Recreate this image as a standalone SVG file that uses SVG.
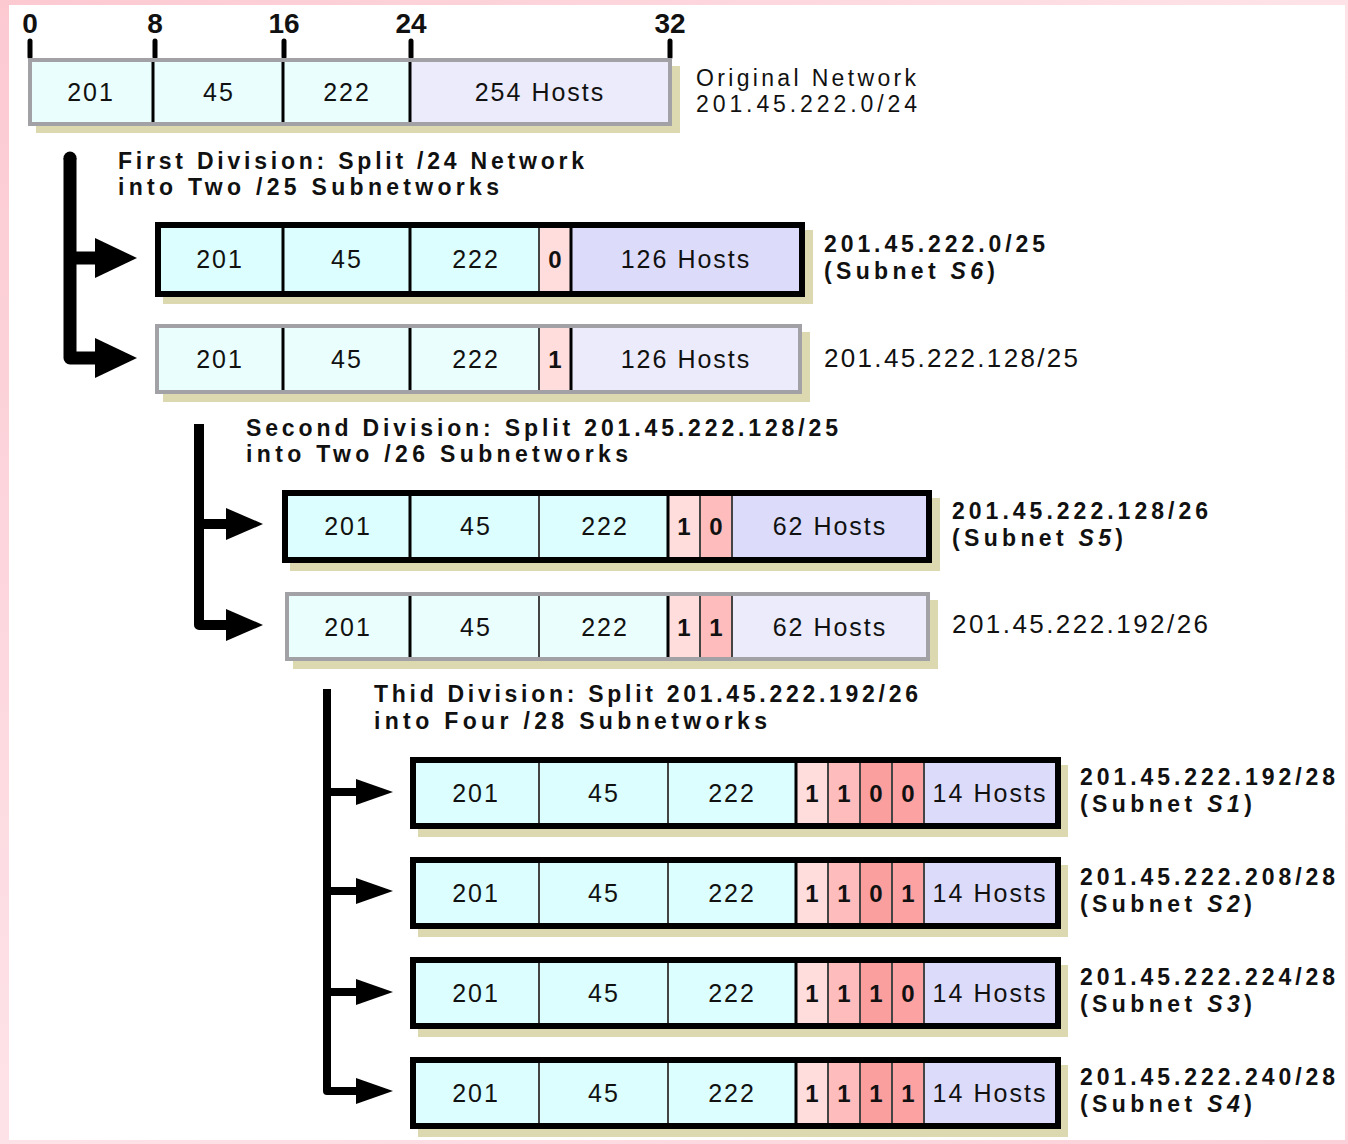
<svg xmlns="http://www.w3.org/2000/svg" width="1348" height="1144" viewBox="0 0 1348 1144">
<defs>
<linearGradient id="bg" x1="0" y1="0" x2="1" y2="1">
<stop offset="0" stop-color="#fcc9d1"/>
<stop offset="0.5" stop-color="#fde3e8"/>
<stop offset="1" stop-color="#fbd0d8"/>
</linearGradient>
</defs>
<style>
text{font-family:"Liberation Sans",Arial,sans-serif;fill:#111}
.cell{font-size:25px;letter-spacing:2px;text-anchor:middle}
.bit{font-size:24px;font-weight:bold;text-anchor:middle}
.tick{font-size:28px;font-weight:bold;text-anchor:middle}
.lbl{font-size:23px}
.lbl1{font-size:26px}
.lblb{font-size:23px;font-weight:bold}
.head{font-size:23px;font-weight:bold}
.shadow{fill:#dcd9b0}
.cy{fill:#dcfefe}
.cy2{fill:#eafefe}
.p1{fill:#ffdddd}
.p2{fill:#ffbcbc}
.p3{fill:#fb9e9e}
.p4{fill:#fda2a2}
.lv{fill:#dcdcfa}
.lv2{fill:#ebebfb}
.bdk{fill:none;stroke:#000;stroke-width:6}
.bgr{fill:none;stroke:#a2a2a6;stroke-width:4}
.dv{stroke:#000;stroke-width:3}
.dg{stroke:#444;stroke-width:2}
.conn{fill:none;stroke:#000;stroke-linejoin:round}
.ah{fill:#000}
</style>
<rect x="0" y="0" width="1348" height="1144" fill="url(#bg)"/>
<rect x="9" y="5" width="1336" height="1135" fill="#fff"/>

<g id="scale">
<g stroke="#000" stroke-width="5" stroke-linecap="round">
<line x1="30" y1="41" x2="30" y2="57"/>
<line x1="155" y1="41" x2="155" y2="57"/>
<line x1="284" y1="41" x2="284" y2="57"/>
<line x1="411" y1="41" x2="411" y2="57"/>
<line x1="670" y1="41" x2="670" y2="57"/>
</g>
<text class="tick" x="30" y="33">0</text>
<text class="tick" x="155" y="33">8</text>
<text class="tick" x="284" y="33">16</text>
<text class="tick" x="411" y="33">24</text>
<text class="tick" x="670" y="33">32</text>
</g>

<g id="original">
<rect class="shadow" x="36" y="66" width="644" height="67"/>
<rect class="cy2" x="30" y="60" width="380" height="64"/>
<rect class="lv2" x="410" y="60" width="260" height="64"/>
<line class="dv" x1="153" y1="60" x2="153" y2="124"/>
<line class="dv" x1="283" y1="60" x2="283" y2="124"/>
<line class="dv" x1="410" y1="60" x2="410" y2="124"/>
<rect class="bgr" x="30" y="60" width="640" height="64"/>
<text class="cell" x="91" y="101">201</text>
<text class="cell" x="219" y="101">45</text>
<text class="cell" x="347" y="101">222</text>
<text class="cell" x="540" y="101">254 Hosts</text>
<text class="lbl" x="696" y="86" textLength="220" lengthAdjust="spacing">Original Network</text>
<text class="lbl" x="696" y="112" textLength="221" lengthAdjust="spacing">201.45.222.0/24</text>
</g>

<g id="heading1">
<text class="head" x="118" y="169" textLength="466" lengthAdjust="spacing">First Division: Split /24 Network</text>
<text class="head" x="118" y="195" textLength="381" lengthAdjust="spacing">into Two /25 Subnetworks</text>
</g>

<g id="subnet-s6">
<rect class="shadow" x="163" y="230" width="650" height="74"/>
<rect class="cy" x="158" y="225" width="381" height="69"/>
<rect class="p1" x="539" y="225" width="32" height="69"/>
<rect class="lv" x="571" y="225" width="231" height="69"/>
<line class="dv" x1="283" y1="225" x2="283" y2="294"/>
<line class="dv" x1="410" y1="225" x2="410" y2="294"/>
<line class="dg" x1="539" y1="225" x2="539" y2="294"/>
<line class="dv" x1="571" y1="225" x2="571" y2="294"/>
<rect class="bdk" x="158" y="225" width="644" height="69"/>
<text class="cell" x="220" y="268">201</text>
<text class="cell" x="347" y="268">45</text>
<text class="cell" x="476" y="268">222</text>
<text class="bit" x="555" y="268">0</text>
<text class="cell" x="686" y="268">126 Hosts</text>
<text class="lblb" x="824" y="252" textLength="221" lengthAdjust="spacing">201.45.222.0/25</text>
<text class="lblb" x="824" y="279" textLength="171" lengthAdjust="spacing">(Subnet <tspan font-style="italic">S6</tspan>)</text>
</g>

<g id="net-128-25">
<rect class="shadow" x="163" y="332" width="647" height="70"/>
<rect class="cy2" x="157" y="326" width="382" height="66"/>
<rect class="p1" x="539" y="326" width="32" height="66"/>
<rect class="lv2" x="571" y="326" width="229" height="66"/>
<line class="dv" x1="283" y1="326" x2="283" y2="392"/>
<line class="dv" x1="410" y1="326" x2="410" y2="392"/>
<line class="dg" x1="539" y1="326" x2="539" y2="392"/>
<line class="dv" x1="571" y1="326" x2="571" y2="392"/>
<rect class="bgr" x="157" y="326" width="643" height="66"/>
<text class="cell" x="220" y="368">201</text>
<text class="cell" x="347" y="368">45</text>
<text class="cell" x="476" y="368">222</text>
<text class="bit" x="555" y="368">1</text>
<text class="cell" x="686" y="368">126 Hosts</text>
<text class="lbl1" x="824" y="367" textLength="254" lengthAdjust="spacing">201.45.222.128/25</text>
</g>

<g id="heading2">
<text class="head" x="246" y="436" textLength="592" lengthAdjust="spacing">Second Division: Split 201.45.222.128/25</text>
<text class="head" x="246" y="462" textLength="382" lengthAdjust="spacing">into Two /26 Subnetworks</text>
</g>

<g id="subnet-s5">
<rect class="shadow" x="290" y="498" width="650" height="73"/>
<rect class="cy" x="285" y="493" width="383" height="67"/>
<rect class="p1" x="668" y="493" width="32" height="67"/>
<rect class="p2" x="700" y="493" width="32" height="67"/>
<rect class="lv" x="732" y="493" width="197" height="67"/>
<line class="dv" x1="410" y1="493" x2="410" y2="560"/>
<line class="dg" x1="539" y1="493" x2="539" y2="560"/>
<line class="dv" x1="668" y1="493" x2="668" y2="560"/>
<line class="dg" x1="700" y1="493" x2="700" y2="560"/>
<line class="dg" x1="732" y1="493" x2="732" y2="560"/>
<rect class="bdk" x="285" y="493" width="644" height="67"/>
<text class="cell" x="348" y="535">201</text>
<text class="cell" x="476" y="535">45</text>
<text class="cell" x="605" y="535">222</text>
<text class="bit" x="684" y="535">1</text>
<text class="bit" x="716" y="535">0</text>
<text class="cell" x="830" y="535">62 Hosts</text>
<text class="lblb" x="952" y="519" textLength="256" lengthAdjust="spacing">201.45.222.128/26</text>
<text class="lblb" x="952" y="546" textLength="171" lengthAdjust="spacing">(Subnet <tspan font-style="italic">S5</tspan>)</text>
</g>

<g id="net-192-26">
<rect class="shadow" x="293" y="600" width="645" height="69"/>
<rect class="cy2" x="287" y="594" width="381" height="65"/>
<rect class="p1" x="668" y="594" width="32" height="65"/>
<rect class="p2" x="700" y="594" width="32" height="65"/>
<rect class="lv2" x="732" y="594" width="196" height="65"/>
<line class="dv" x1="410" y1="594" x2="410" y2="659"/>
<line class="dg" x1="539" y1="594" x2="539" y2="659"/>
<line class="dv" x1="668" y1="594" x2="668" y2="659"/>
<line class="dg" x1="700" y1="594" x2="700" y2="659"/>
<line class="dg" x1="732" y1="594" x2="732" y2="659"/>
<rect class="bgr" x="287" y="594" width="641" height="65"/>
<text class="cell" x="348" y="636">201</text>
<text class="cell" x="476" y="636">45</text>
<text class="cell" x="605" y="636">222</text>
<text class="bit" x="684" y="636">1</text>
<text class="bit" x="716" y="636">1</text>
<text class="cell" x="830" y="636">62 Hosts</text>
<text class="lbl1" x="952" y="633" textLength="256" lengthAdjust="spacing">201.45.222.192/26</text>
</g>

<g id="heading3">
<text class="head" x="374" y="702" textLength="544" lengthAdjust="spacing">Thid Division: Split 201.45.222.192/26</text>
<text class="head" x="374" y="729" textLength="393" lengthAdjust="spacing">into Four /28 Subnetworks</text>
</g>

<g id="subnet-s1">
<rect class="shadow" x="418" y="765" width="650" height="72"/>
<rect class="cy" x="413" y="760" width="383" height="66"/>
<rect class="p1" x="796" y="760" width="32" height="66"/>
<rect class="p2" x="828" y="760" width="32" height="66"/>
<rect class="p3" x="860" y="760" width="32" height="66"/>
<rect class="p4" x="892" y="760" width="32" height="66"/>
<rect class="lv" x="924" y="760" width="134" height="66"/>
<line class="dg" x1="539" y1="760" x2="539" y2="826"/>
<line class="dg" x1="668" y1="760" x2="668" y2="826"/>
<line class="dv" x1="796" y1="760" x2="796" y2="826"/>
<line class="dg" x1="828" y1="760" x2="828" y2="826"/>
<line class="dg" x1="860" y1="760" x2="860" y2="826"/>
<line class="dg" x1="892" y1="760" x2="892" y2="826"/>
<line class="dg" x1="924" y1="760" x2="924" y2="826"/>
<rect class="bdk" x="413" y="760" width="645" height="66"/>
<text class="cell" x="476" y="802">201</text>
<text class="cell" x="604" y="802">45</text>
<text class="cell" x="732" y="802">222</text>
<text class="bit" x="812" y="802">1</text>
<text class="bit" x="844" y="802">1</text>
<text class="bit" x="876" y="802">0</text>
<text class="bit" x="908" y="802">0</text>
<text class="cell" x="990" y="802" textLength="115" lengthAdjust="spacing">14 Hosts</text>
<text class="lblb" x="1080" y="785" textLength="255" lengthAdjust="spacing">201.45.222.192/28</text>
<text class="lblb" x="1080" y="812" textLength="172" lengthAdjust="spacing">(Subnet <tspan font-style="italic">S1</tspan>)</text>
</g>

<g id="subnet-s2">
<rect class="shadow" x="418" y="865" width="650" height="72"/>
<rect class="cy" x="413" y="860" width="383" height="66"/>
<rect class="p1" x="796" y="860" width="32" height="66"/>
<rect class="p2" x="828" y="860" width="32" height="66"/>
<rect class="p3" x="860" y="860" width="32" height="66"/>
<rect class="p4" x="892" y="860" width="32" height="66"/>
<rect class="lv" x="924" y="860" width="134" height="66"/>
<line class="dg" x1="539" y1="860" x2="539" y2="926"/>
<line class="dg" x1="668" y1="860" x2="668" y2="926"/>
<line class="dv" x1="796" y1="860" x2="796" y2="926"/>
<line class="dg" x1="828" y1="860" x2="828" y2="926"/>
<line class="dg" x1="860" y1="860" x2="860" y2="926"/>
<line class="dg" x1="892" y1="860" x2="892" y2="926"/>
<line class="dg" x1="924" y1="860" x2="924" y2="926"/>
<rect class="bdk" x="413" y="860" width="645" height="66"/>
<text class="cell" x="476" y="902">201</text>
<text class="cell" x="604" y="902">45</text>
<text class="cell" x="732" y="902">222</text>
<text class="bit" x="812" y="902">1</text>
<text class="bit" x="844" y="902">1</text>
<text class="bit" x="876" y="902">0</text>
<text class="bit" x="908" y="902">1</text>
<text class="cell" x="990" y="902" textLength="115" lengthAdjust="spacing">14 Hosts</text>
<text class="lblb" x="1080" y="885" textLength="255" lengthAdjust="spacing">201.45.222.208/28</text>
<text class="lblb" x="1080" y="912" textLength="172" lengthAdjust="spacing">(Subnet <tspan font-style="italic">S2</tspan>)</text>
</g>

<g id="subnet-s3">
<rect class="shadow" x="418" y="965" width="650" height="72"/>
<rect class="cy" x="413" y="960" width="383" height="66"/>
<rect class="p1" x="796" y="960" width="32" height="66"/>
<rect class="p2" x="828" y="960" width="32" height="66"/>
<rect class="p3" x="860" y="960" width="32" height="66"/>
<rect class="p4" x="892" y="960" width="32" height="66"/>
<rect class="lv" x="924" y="960" width="134" height="66"/>
<line class="dg" x1="539" y1="960" x2="539" y2="1026"/>
<line class="dg" x1="668" y1="960" x2="668" y2="1026"/>
<line class="dv" x1="796" y1="960" x2="796" y2="1026"/>
<line class="dg" x1="828" y1="960" x2="828" y2="1026"/>
<line class="dg" x1="860" y1="960" x2="860" y2="1026"/>
<line class="dg" x1="892" y1="960" x2="892" y2="1026"/>
<line class="dg" x1="924" y1="960" x2="924" y2="1026"/>
<rect class="bdk" x="413" y="960" width="645" height="66"/>
<text class="cell" x="476" y="1002">201</text>
<text class="cell" x="604" y="1002">45</text>
<text class="cell" x="732" y="1002">222</text>
<text class="bit" x="812" y="1002">1</text>
<text class="bit" x="844" y="1002">1</text>
<text class="bit" x="876" y="1002">1</text>
<text class="bit" x="908" y="1002">0</text>
<text class="cell" x="990" y="1002" textLength="115" lengthAdjust="spacing">14 Hosts</text>
<text class="lblb" x="1080" y="985" textLength="255" lengthAdjust="spacing">201.45.222.224/28</text>
<text class="lblb" x="1080" y="1012" textLength="172" lengthAdjust="spacing">(Subnet <tspan font-style="italic">S3</tspan>)</text>
</g>

<g id="subnet-s4">
<rect class="shadow" x="418" y="1065" width="650" height="72"/>
<rect class="cy" x="413" y="1060" width="383" height="66"/>
<rect class="p1" x="796" y="1060" width="32" height="66"/>
<rect class="p2" x="828" y="1060" width="32" height="66"/>
<rect class="p3" x="860" y="1060" width="32" height="66"/>
<rect class="p4" x="892" y="1060" width="32" height="66"/>
<rect class="lv" x="924" y="1060" width="134" height="66"/>
<line class="dg" x1="539" y1="1060" x2="539" y2="1126"/>
<line class="dg" x1="668" y1="1060" x2="668" y2="1126"/>
<line class="dv" x1="796" y1="1060" x2="796" y2="1126"/>
<line class="dg" x1="828" y1="1060" x2="828" y2="1126"/>
<line class="dg" x1="860" y1="1060" x2="860" y2="1126"/>
<line class="dg" x1="892" y1="1060" x2="892" y2="1126"/>
<line class="dg" x1="924" y1="1060" x2="924" y2="1126"/>
<rect class="bdk" x="413" y="1060" width="645" height="66"/>
<text class="cell" x="476" y="1102">201</text>
<text class="cell" x="604" y="1102">45</text>
<text class="cell" x="732" y="1102">222</text>
<text class="bit" x="812" y="1102">1</text>
<text class="bit" x="844" y="1102">1</text>
<text class="bit" x="876" y="1102">1</text>
<text class="bit" x="908" y="1102">1</text>
<text class="cell" x="990" y="1102" textLength="115" lengthAdjust="spacing">14 Hosts</text>
<text class="lblb" x="1080" y="1085" textLength="255" lengthAdjust="spacing">201.45.222.240/28</text>
<text class="lblb" x="1080" y="1112" textLength="172" lengthAdjust="spacing">(Subnet <tspan font-style="italic">S4</tspan>)</text>
</g>

<g id="connectors">
<path class="conn" stroke-width="13" d="M70,158 L70,358 L100,358 M70,258 L100,258"/>
<circle cx="70" cy="158" r="6.5" fill="#000"/>
<polygon class="ah" points="95,238 95,278 137,258"/>
<polygon class="ah" points="95,338 95,378 137,358"/>
<path class="conn" stroke-width="10" d="M199,424 L199,625 L229,625 M199,524 L229,524"/>
<polygon class="ah" points="226,508 226,540 263,524"/>
<polygon class="ah" points="226,609 226,641 263,625"/>
<path class="conn" stroke-width="8" d="M327,689 L327,1091 L358,1091 M327,792 L358,792 M327,891 L358,891 M327,992 L358,992"/>
<polygon class="ah" points="356,779 356,805 393,792"/>
<polygon class="ah" points="356,878 356,904 393,891"/>
<polygon class="ah" points="356,979 356,1005 393,992"/>
<polygon class="ah" points="356,1078 356,1104 393,1091"/>
</g>
</svg>
